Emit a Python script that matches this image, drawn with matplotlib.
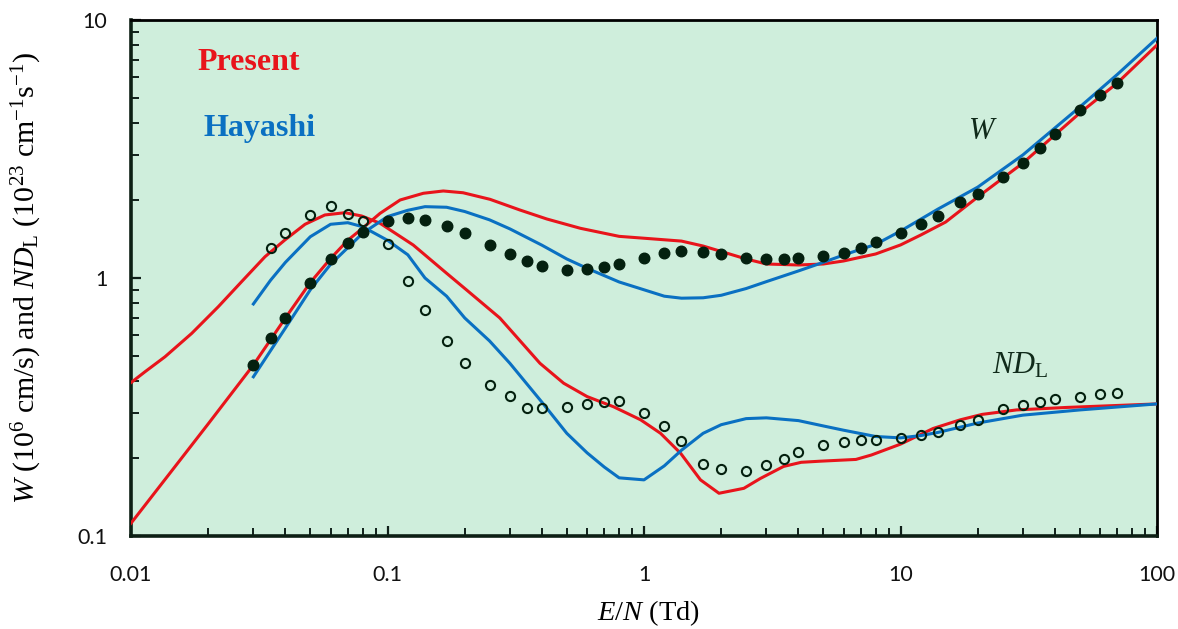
import matplotlib
matplotlib.use("Agg")
import matplotlib.pyplot as plt
from matplotlib.ticker import LogLocator, NullFormatter, FixedLocator, FixedFormatter

plt.rcParams['mathtext.fontset'] = 'custom'
plt.rcParams['mathtext.rm'] = 'Liberation Serif'
plt.rcParams['mathtext.it'] = 'Liberation Serif:italic'

RED = '#e8141b'
BLUE = '#0a70c2'
DOT = '#04200f'
BG = '#cfeedc'

# measured points (E/N in Td)
en_pts = [0.03, 0.035, 0.04, 0.05, 0.06, 0.07, 0.08, 0.1, 0.12, 0.14, 0.17, 0.2,
          0.25, 0.3, 0.35, 0.4, 0.5, 0.6, 0.7, 0.8, 1, 1.2, 1.4, 1.7, 2, 2.5, 3,
          3.5, 4, 5, 6, 7, 8, 10, 12, 14, 17, 20, 25, 30, 35, 40, 50, 60, 70]
w_pts = [0.46, 0.585, 0.70, 0.956, 1.185, 1.367, 1.508, 1.663, 1.704, 1.683, 1.591,
         1.494, 1.339, 1.242, 1.167, 1.116, 1.077, 1.084, 1.103, 1.133, 1.192, 1.247,
         1.273, 1.258, 1.239, 1.195, 1.188, 1.182, 1.192, 1.217, 1.253, 1.303, 1.375,
         1.494, 1.619, 1.739, 1.971, 2.117, 2.463, 2.798, 3.191, 3.625, 4.467, 5.12, 5.71]

en_ndl = en_pts[1:]
ndl_pts = [1.310, 1.498, 1.759, 1.906, 1.766, 1.668, 1.351, 0.974, 0.750, 0.571,
           0.469, 0.385, 0.348, 0.314, 0.313, 0.317, 0.326, 0.330, 0.334, 0.300,
           0.266, 0.234, 0.190, 0.181, 0.178, 0.188, 0.198, 0.211, 0.225, 0.231,
           0.235, 0.236, 0.240, 0.246, 0.254, 0.269, 0.281, 0.311, 0.321, 0.332,
           0.340, 0.346, 0.355, 0.357]

# present calculation
en_red_w = [0.01, 0.02, 0.03, 0.04, 0.05, 0.06, 0.07, 0.08, 0.0935, 0.112, 0.138,
            0.165, 0.197, 0.251, 0.328, 0.418, 0.565, 0.8, 1, 1.4, 1.7, 2, 2.5, 3,
            4, 5, 6, 8, 10, 12, 15, 20, 30, 50, 70, 100]
red_w = [0.112, 0.272, 0.46, 0.70, 0.96, 1.19, 1.40, 1.56, 1.78, 2.006, 2.13,
         2.174, 2.14, 2.018, 1.835, 1.693, 1.558, 1.45, 1.426, 1.39, 1.33, 1.267,
         1.185, 1.133, 1.123, 1.133, 1.164, 1.239, 1.343, 1.468, 1.648, 2.06, 2.79,
         4.36, 5.7, 8.0]

en_red_ndl = [0.01, 0.01134, 0.01357, 0.01725, 0.0219, 0.027, 0.0333, 0.0398, 0.0477,
              0.057, 0.0683, 0.0793, 0.0935, 0.126, 0.17, 0.203, 0.274, 0.393, 0.486,
              0.6, 0.76, 0.97, 1.16, 1.39, 1.66, 1.96, 2.45, 2.84, 3.5, 4.1, 4.9,
              6.7, 7.7, 10, 13.4, 17.1, 20.8, 28.3, 44.6, 100]
red_ndl = [0.393, 0.433, 0.495, 0.61, 0.774, 0.968, 1.209, 1.404, 1.615, 1.755,
           1.791, 1.739, 1.63, 1.342, 1.043, 0.90, 0.70, 0.467, 0.391, 0.347, 0.317,
           0.282, 0.250, 0.209, 0.165, 0.1464, 0.153, 0.167, 0.186, 0.193, 0.195,
           0.198, 0.206, 0.227, 0.261, 0.282, 0.296, 0.308, 0.315, 0.325]

# Hayashi
en_blue_w = [0.03, 0.04, 0.05, 0.06, 0.08, 0.1, 0.12, 0.14, 0.17, 0.2, 0.25, 0.3,
             0.4, 0.5, 0.6, 0.8, 1, 1.2, 1.4, 1.7, 2, 2.5, 3, 4, 5, 6, 8, 10, 14,
             20, 30, 50, 70, 100]
blue_w = [0.414, 0.64, 0.90, 1.13, 1.49, 1.73, 1.83, 1.89, 1.88, 1.81, 1.68, 1.55,
          1.34, 1.185, 1.09, 0.965, 0.90, 0.85, 0.835, 0.838, 0.857, 0.91, 0.968,
          1.065, 1.15, 1.228, 1.35, 1.52, 1.85, 2.25, 3.0, 4.6, 6.15, 8.5]

en_blue_ndl = [0.03, 0.035, 0.04, 0.05, 0.06, 0.07, 0.08, 0.1, 0.12, 0.14, 0.17, 0.2,
               0.25, 0.3, 0.4, 0.5, 0.6, 0.7, 0.8, 1, 1.2, 1.4, 1.7, 2, 2.5, 3, 4,
               5, 6, 8, 10, 12, 14, 20, 30, 50, 100]
blue_ndl = [0.793, 0.98, 1.15, 1.445, 1.615, 1.638, 1.58, 1.40, 1.23, 1.0, 0.85,
            0.70, 0.57, 0.467, 0.33, 0.25, 0.21, 0.185, 0.168, 0.165, 0.187, 0.215,
            0.25, 0.27, 0.285, 0.287, 0.28, 0.267, 0.257, 0.243, 0.240, 0.245, 0.252,
            0.274, 0.294, 0.308, 0.325]


def main():
    fig = plt.figure(figsize=(11.78, 6.29), dpi=100)
    ax = fig.add_axes([0.1112, 0.1479, 0.871, 0.8203])
    ax.set_facecolor(BG)

    ax.plot(en_red_w, red_w, color=RED, lw=2.2, zorder=3)
    ax.plot(en_red_ndl, red_ndl, color=RED, lw=2.2, zorder=3)
    ax.plot(en_blue_w, blue_w, color=BLUE, lw=2.2, zorder=3)
    ax.plot(en_blue_ndl, blue_ndl, color=BLUE, lw=2.2, zorder=3)

    ax.plot(en_pts, w_pts, 'o', ms=7.6, color=DOT, zorder=4, linestyle='none')
    ax.plot(en_ndl, ndl_pts, 'o', ms=6.6, mfc='none', mec=DOT, mew=1.5,
            zorder=4, linestyle='none')

    ax.set_xscale('log')
    ax.set_yscale('log')
    ax.set_xlim(0.01, 100)
    ax.set_ylim(0.1, 10)

    ax.xaxis.set_major_locator(FixedLocator([0.01, 0.1, 1, 10, 100]))
    ax.xaxis.set_major_formatter(FixedFormatter(['0.01', '0.1', '1', '10', '100']))
    ax.yaxis.set_major_locator(FixedLocator([0.1, 1, 10]))
    ax.yaxis.set_major_formatter(FixedFormatter(['0.1', '1', '10']))
    for axis in (ax.xaxis, ax.yaxis):
        axis.set_minor_locator(LogLocator(base=10, subs=range(2, 10)))
        axis.set_minor_formatter(NullFormatter())

    ax.tick_params(which='both', direction='in', colors='#10201a')
    ax.tick_params(which='major', length=7, width=1.6)
    ax.tick_params(which='minor', length=6, width=1.4)
    ax.tick_params(axis='y', which='major', pad=17)
    ax.tick_params(axis='x', which='major', pad=21)
    for lab in ax.get_xticklabels() + ax.get_yticklabels():
        lab.set_fontfamily('Lato')
        lab.set_fontsize(15.5)
        lab.set_color('#111111')

    ax.spines['left'].set_linewidth(2.6)
    ax.spines['bottom'].set_linewidth(2.6)
    ax.spines['left'].set_color('#0c1f14')
    ax.spines['bottom'].set_color('#0c1f14')
    ax.spines['top'].set_linewidth(2.0)
    ax.spines['right'].set_linewidth(2.0)

    ax.set_xlabel(r'$E/N$ (Td)', fontfamily='Liberation Serif', fontsize=20.5)
    ax.xaxis.set_label_coords(0.504, -0.12)
    ax.set_ylabel(r'$W$ (10$^6$ cm/s) and $ND_{\rm L}$ (10$^{23}$ cm$^{-1}$s$^{-1}$)',
                  fontfamily='Liberation Serif', fontsize=21.5)
    ax.yaxis.set_label_coords(-0.085, 0.5)

    ax.text(0.0643, 0.917, 'Present', transform=ax.transAxes, color=RED,
            fontfamily='Liberation Serif', fontweight='bold', fontsize=23,
            va='center', ha='left')
    ax.text(0.0702, 0.79, 'Hayashi', transform=ax.transAxes, color=BLUE,
            fontfamily='Liberation Serif', fontweight='bold', fontsize=23,
            va='center', ha='left')
    ax.text(0.83, 0.785, r'$W$', transform=ax.transAxes, color='#102a1a',
            fontsize=22, va='center', ha='center')
    ax.text(0.867, 0.33, r'$ND_{\rm L}$', transform=ax.transAxes, color='#102a1a',
            fontsize=22, va='center', ha='center')

    fig.savefig('out.png', dpi=100)


if __name__ == '__main__':
    main()
